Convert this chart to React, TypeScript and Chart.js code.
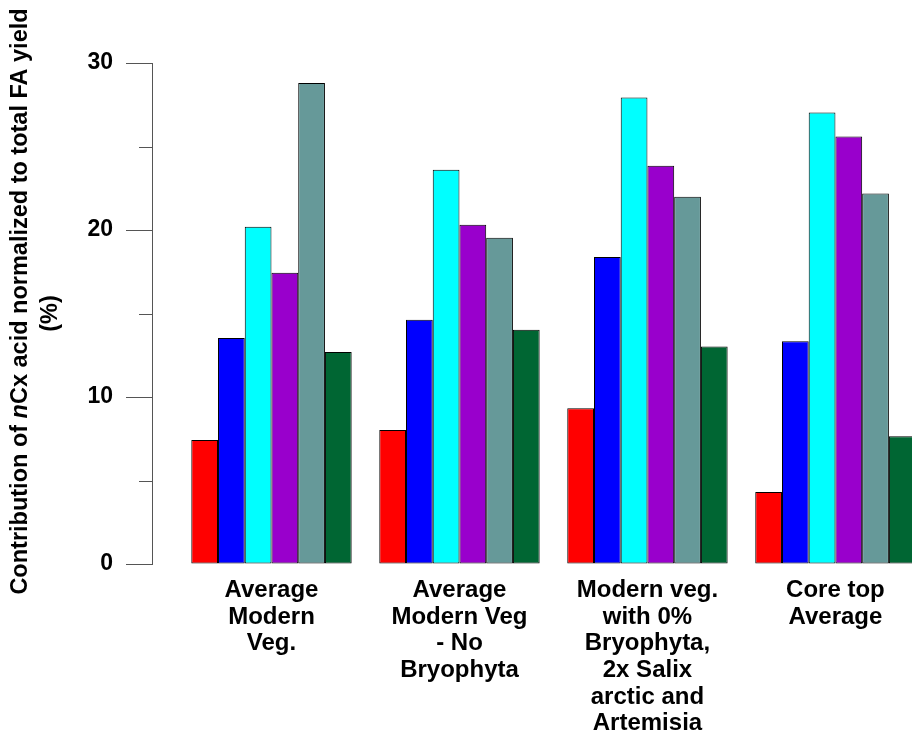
import { useEffect, useRef } from 'react';
import { Chart, registerables } from 'chart.js';

Chart.register(...registerables);

// Category labels (one array of lines per group)
const groupLabels: string[][] = [
  ['Average', 'Modern', 'Veg.'],
  ['Average', 'Modern Veg', '- No', 'Bryophyta'],
  ['Modern veg.', 'with 0%', 'Bryophyta,', '2x Salix', 'arctic and', 'Artemisia'],
  ['Core top', 'Average'],
];

// Contribution (%) of each acid, one value per group
const seriesRed = [7.43, 8.03, 9.33, 4.31];
const seriesBlue = [13.54, 14.62, 18.38, 13.34];
const seriesCyan = [20.19, 23.61, 27.94, 27.04];
const seriesPurple = [17.44, 20.31, 23.85, 25.6];
const seriesTeal = [28.8, 19.53, 21.99, 22.19];
const seriesGreen = [12.7, 14.02, 13.02, 7.65];

const seriesColors = ['#ff0000', '#0000ff', '#00ffff', '#9900cc', '#669999', '#006633'];
const allSeries = [seriesRed, seriesBlue, seriesCyan, seriesPurple, seriesTeal, seriesGreen];

const yTickValues = { min: 0, max: 30, step: 5, labelEvery: 10 };

const FONT_FAMILY = '"Liberation Sans", Arial, Helvetica, sans-serif';
const AXIS_COLOR = '#555555';

const axisDecor = {
  id: 'axisDecor',
  afterDraw(chart: any) {
    const { ctx, chartArea, scales } = chart;
    const y = scales.y;
    ctx.save();
    // short minor ticks
    ctx.strokeStyle = AXIS_COLOR;
    ctx.lineWidth = 1;
    for (const t of y.ticks) {
      if (t.value % yTickValues.labelEvery !== 0) {
        const py = Math.round(y.getPixelForValue(t.value)) + 0.5;
        ctx.beginPath();
        ctx.moveTo(chartArea.left - 13, py);
        ctx.lineTo(chartArea.left, py);
        ctx.stroke();
      }
    }
    // rotated axis title with italic "n"
    const cy = (chartArea.top + chartArea.bottom) / 2;
    const bold = `bold 23.5px ${FONT_FAMILY}`;
    const boldItalic = `italic bold 23.5px ${FONT_FAMILY}`;
    const parts: [string, string][] = [
      ['Contribution of ', bold],
      ['n', boldItalic],
      ['Cx acid normalized to total FA yield', bold],
    ];
    ctx.fillStyle = '#000';
    ctx.textBaseline = 'middle';
    ctx.textAlign = 'left';
    let total = 0;
    for (const [txt, f] of parts) {
      ctx.font = f;
      total += ctx.measureText(txt).width;
    }
    ctx.save();
    ctx.translate(21, cy - 12);
    ctx.rotate(-Math.PI / 2);
    let x = -total / 2;
    for (const [txt, f] of parts) {
      ctx.font = f;
      ctx.fillText(txt, x, 0);
      x += ctx.measureText(txt).width;
    }
    ctx.restore();
    ctx.save();
    ctx.translate(51, cy);
    ctx.rotate(-Math.PI / 2);
    ctx.font = bold;
    ctx.textAlign = 'center';
    ctx.fillText('(%)', 0, 0);
    ctx.restore();
    ctx.restore();
  },
};

export default function App() {
  const canvasRef = useRef<HTMLCanvasElement>(null);

  useEffect(() => {
    const canvas = canvasRef.current;
    if (!canvas) return;
    const chart = new Chart(canvas, {
      type: 'bar',
      data: {
        datasets: allSeries.map((vals, si) => ({
          label: `Series ${si + 1}`,
          data: vals.map((v, i) => ({ x: i, y: v })),
          backgroundColor: seriesColors[si],
          borderColor: '#000000',
          borderWidth: 1,
          borderSkipped: false,
          categoryPercentage: 0.8532,
          barPercentage: 1,
        })),
      },
      options: {
        responsive: false,
        animation: false,
        devicePixelRatio: 1,
        layout: { padding: { top: 63, right: 0, bottom: 0, left: 0 } },
        plugins: {
          legend: { display: false },
          tooltip: { enabled: false },
        },
        scales: {
          x: {
            type: 'linear',
            offset: false,
            min: -0.6356,
            max: 3.503,
            grid: { display: false, drawTicks: false, offset: false },
            border: { display: false },
            afterFit: (scale: any) => {
              scale.height = 173;
            },
            ticks: {
              stepSize: 1,
              includeBounds: false,
              autoSkip: false,
              maxRotation: 0,
              minRotation: 0,
              padding: 13,
              color: '#000',
              font: { family: FONT_FAMILY, size: 24, weight: 'bold', lineHeight: 1.11 },
              callback: (v: any) => (Number.isInteger(v) && groupLabels[v] ? groupLabels[v] : ''),
            },
          },
          y: {
            min: yTickValues.min,
            max: yTickValues.max,
            afterFit: (scale: any) => {
              scale.width = 152;
            },
            grid: {
              drawOnChartArea: false,
              drawTicks: true,
              tickLength: 26,
              tickColor: (c: any) =>
                c.tick && c.tick.value % yTickValues.labelEvery === 0 ? AXIS_COLOR : 'rgba(0,0,0,0)',
            },
            border: { display: true, color: AXIS_COLOR, width: 1 },
            ticks: {
              stepSize: yTickValues.step,
              padding: 13,
              color: '#000',
              font: { family: FONT_FAMILY, size: 23, weight: 'bold' },
              callback: (v: any) => (v % yTickValues.labelEvery === 0 ? String(v) : ''),
            },
          },
        },
      },
      plugins: [axisDecor],
    });
    return () => chart.destroy();
  }, []);

  return (
    <div
      style={{
        position: 'fixed',
        left: 0,
        top: 0,
        width: 912,
        height: 737,
        overflow: 'hidden',
        background: '#fff',
      }}
    >
      <canvas ref={canvasRef} width={930} height={737} style={{ display: 'block' }} />
    </div>
  );
}
